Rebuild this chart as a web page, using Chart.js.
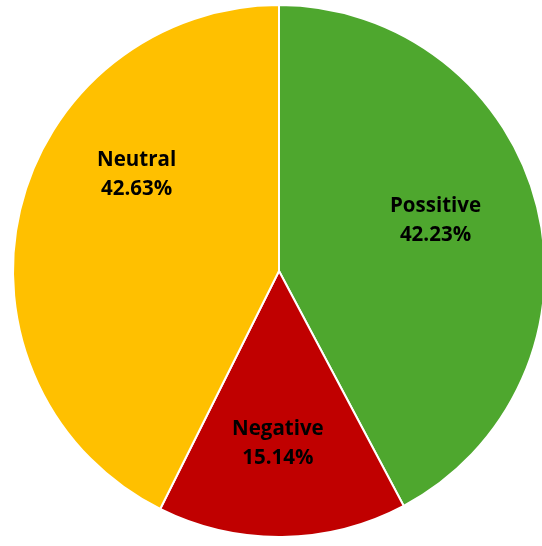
<!DOCTYPE html>
<html>
<head>
<meta charset="utf-8">
<script src="https://cdn.jsdelivr.net/npm/chart.js@4/dist/chart.umd.min.js"></script>
<style>
  html, body { margin: 0; padding: 0; background: #fff; overflow: hidden; }
  #wrap { position: relative; width: 542px; height: 546px; overflow: hidden; }
  #sentiment { position: absolute; left: 0; top: 0; }
</style>
</head>
<body>
<div id="wrap"><canvas id="sentiment" width="558" height="542"></canvas></div>
<script>
const labels = ["Possitive", "Negative", "Neutral"];
const shares = [42.23, 15.14, 42.63];
const colors = ["#4EA72E", "#C00000", "#FFC000"];
// label nudges: [angle shift in degrees, fraction of radius]
const labelPlacement = [[-4.4, 0.62], [1.1, 0.64], [21.3, 0.65]];

const sliceLabels = {
  id: "sliceLabels",
  afterDatasetsDraw(chart) {
    const { ctx } = chart;
    const meta = chart.getDatasetMeta(0);
    ctx.save();
    ctx.font = "bold 20.5px 'Open Sans', sans-serif";
    ctx.fillStyle = "#000";
    ctx.textAlign = "center";
    ctx.textBaseline = "middle";
    meta.data.forEach((arc, i) => {
      const { x, y, startAngle, endAngle, outerRadius } = arc.getProps(["x", "y", "startAngle", "endAngle", "outerRadius"], true);
      const [shift, frac] = labelPlacement[i];
      const mid = (startAngle + endAngle) / 2 + (shift * Math.PI) / 180;
      const r = outerRadius * frac;
      const lx = x + Math.cos(mid) * r;
      const ly = y + Math.sin(mid) * r + 2;
      ctx.fillText(labels[i], lx, ly - 14.5);
      ctx.fillText(shares[i].toFixed(2) + "%", lx, ly + 14.5);
    });
    ctx.restore();
  },
};

new Chart(document.getElementById("sentiment"), {
  type: "pie",
  data: {
    labels,
    datasets: [{
      data: shares,
      backgroundColor: colors,
      borderColor: "#fff",
      borderWidth: 2,
    }],
  },
  options: {
    responsive: false,
    animation: false,
    radius: 266,
    layout: { padding: 0 },
    plugins: {
      legend: { display: false },
      tooltip: { enabled: false },
    },
  },
  plugins: [sliceLabels],
});
</script>
</body>
</html>
